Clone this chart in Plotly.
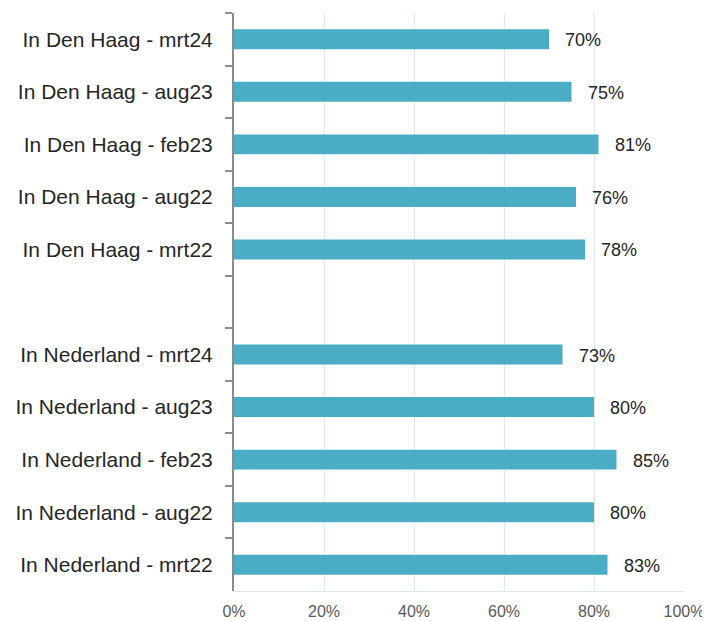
import plotly.graph_objects as go

categories = [
    "In Den Haag - mrt24",
    "In Den Haag - aug23",
    "In Den Haag - feb23",
    "In Den Haag - aug22",
    "In Den Haag - mrt22",
    " ",
    "In Nederland - mrt24",
    "In Nederland - aug23",
    "In Nederland - feb23",
    "In Nederland - aug22",
    "In Nederland - mrt22",
]
values = [70, 75, 81, 76, 78, None, 73, 80, 85, 80, 83]
labels = ["70%", "75%", "81%", "76%", "78%", "", "73%", "80%", "85%", "80%", "83%"]
x_ticks = [0, 20, 40, 60, 80, 100]
x_ticktext = ["0%", "20%", "40%", "60%", "80%", "100%"]

bar_color = "#4BACC6"

fig = go.Figure()
fig.add_trace(go.Bar(
    y=categories,
    x=values,
    orientation="h",
    marker=dict(color=bar_color, line=dict(width=0)),
    hoverinfo="skip",
))

for c, v, t in zip(categories, values, labels):
    if v is None:
        continue
    fig.add_annotation(
        x=v, y=c, text=t, showarrow=False,
        xanchor="left", yanchor="middle", xshift=14, yshift=-1,
        font=dict(family="Liberation Sans, Arial, sans-serif", size=18, color="#262626"),
    )

fig.update_layout(
    width=710, height=621,
    margin=dict(l=226, r=34, t=5, b=38),
    paper_bgcolor="white",
    plot_bgcolor="white",
    bargap=0.62,
    showlegend=False,
    font=dict(family="Liberation Sans, Arial, sans-serif", color="#262626"),
)

fig.update_xaxes(
    range=[0, 100],
    tickvals=x_ticks,
    ticktext=x_ticktext,
    showgrid=True,
    gridcolor="#DCEBF3",
    gridwidth=1,
    showline=True,
    linecolor="#DCEBF3",
    linewidth=1,
    zeroline=False,
    ticks="",
    tickfont=dict(size=16, color="#595959"),
    ticklabelstandoff=6,
)

fig.update_yaxes(
    type="category",
    categoryorder="array",
    categoryarray=categories,
    autorange="reversed",
    showline=True,
    linecolor="#8C8C8C",
    linewidth=2,
    ticks="outside",
    tickson="boundaries",
    ticklen=7,
    tickcolor="#8C8C8C",
    tickwidth=2,
    showgrid=False,
    tickfont=dict(size=21, color="#262626"),
    ticklabelstandoff=15,
)

fig.write_html("out.html")
